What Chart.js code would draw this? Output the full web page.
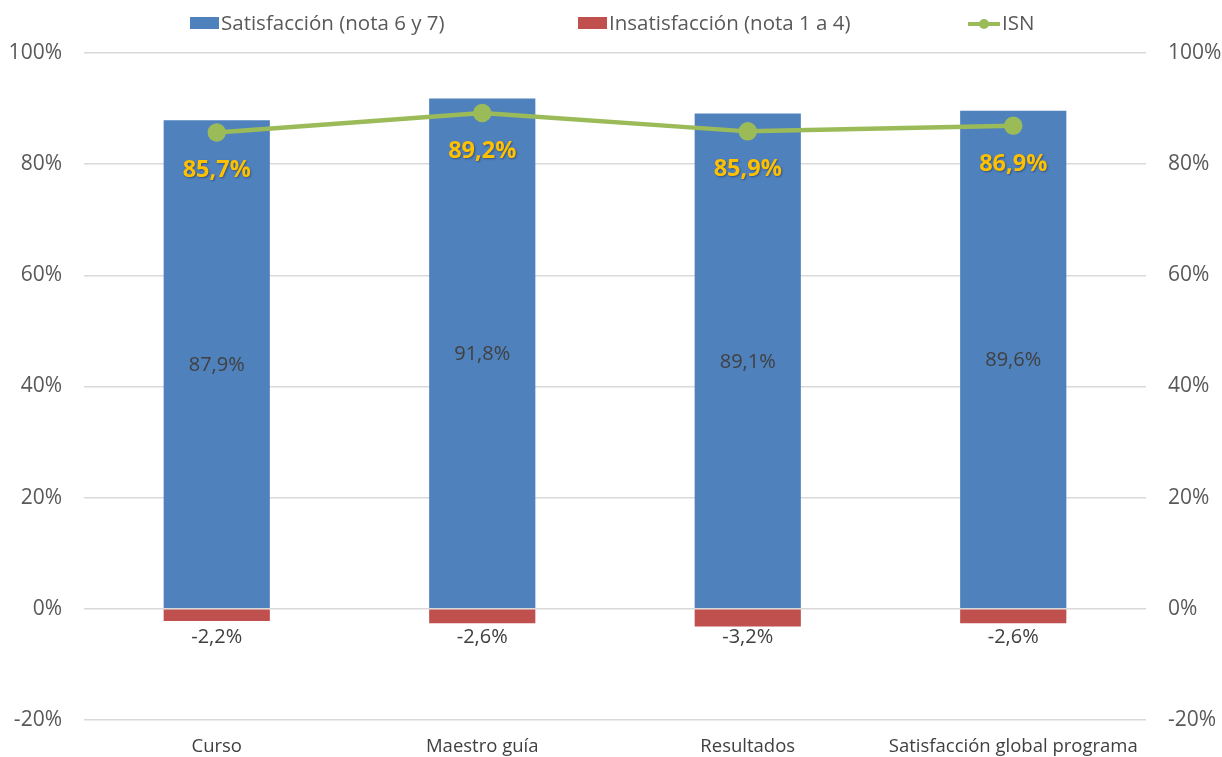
<!DOCTYPE html>
<html>
<head>
<meta charset="utf-8">
<script src="https://cdn.jsdelivr.net/npm/chart.js@4/dist/chart.umd.min.js"></script>
<style>
  html, body { margin: 0; padding: 0; background: #fff; }
  #wrap { width: 1222px; height: 757px; position: relative; }
</style>
</head>
<body>
<div id="wrap"><canvas id="chart" width="1222" height="757"></canvas></div>
<script>
const categories = ['Curso', 'Maestro guía', 'Resultados', 'Satisfacción global programa'];
const satisfaccion = [87.9, 91.8, 89.1, 89.6];
const insatisfaccion = [-2.2, -2.6, -3.2, -2.6];
const isn = [85.7, 89.2, 85.9, 86.9];
const seriesNames = ['Satisfacción (nota 6 y 7)', 'Insatisfacción (nota 1 a 4)', 'ISN'];

const FONT = '"Open Sans", "Noto Sans", sans-serif';
const fmt = v => v.toFixed(1).replace('.', ',') + '%';

// labels + legend drawn by hand, no datalabels plugin available
const labelPlugin = {
    id: 'labels',
    afterDatasetsDraw(chart) {
        const ctx = chart.ctx;
        const zeroY = chart.scales.y.getPixelForValue(0);
        ctx.save();
        ctx.textAlign = 'center';
        ctx.textBaseline = 'middle';

        // satisfaction values, centred in bar
        ctx.font = '20px ' + FONT;
        ctx.fillStyle = '#404040';
        chart.getDatasetMeta(0).data.forEach((bar, i) => {
            ctx.fillText(fmt(satisfaccion[i]), bar.x, (bar.y + bar.base) / 2 + 1);
        });
        // dissatisfaction values, under the bars
        chart.getDatasetMeta(1).data.forEach((bar, i) => {
            ctx.fillText(fmt(insatisfaccion[i]), bar.x, zeroY + 28);
        });
        // ISN values, below the points
        ctx.font = 'bold 23.5px ' + FONT;
        chart.getDatasetMeta(2).data.forEach((pt, i) => {
            ctx.shadowColor = 'rgba(0,0,0,0.35)';
            ctx.shadowOffsetX = 1;
            ctx.shadowOffsetY = 1;
            ctx.shadowBlur = 2;
            ctx.fillStyle = '#FFC000';
            ctx.fillText(fmt(isn[i]), pt.x, pt.y + 38);
        });
        ctx.shadowColor = 'transparent';

        // legend
        ctx.font = '20.5px ' + FONT;
        ctx.textAlign = 'left';
        ctx.fillStyle = '#4F81BD';
        ctx.fillRect(190, 17, 29, 12);
        ctx.fillStyle = '#595959';
        ctx.fillText(seriesNames[0], 221, 24);
        ctx.fillStyle = '#C0504D';
        ctx.fillRect(578, 17, 29, 12);
        ctx.fillStyle = '#595959';
        ctx.fillText(seriesNames[1], 609, 24);
        ctx.strokeStyle = '#9BBB59';
        ctx.lineWidth = 4;
        ctx.beginPath();
        ctx.moveTo(968, 24);
        ctx.lineTo(1000, 24);
        ctx.stroke();
        ctx.fillStyle = '#9BBB59';
        ctx.beginPath();
        ctx.arc(984, 24, 5, 0, Math.PI * 2);
        ctx.fill();
        ctx.fillStyle = '#595959';
        ctx.fillText(seriesNames[2], 1002, 24);
        ctx.restore();
    }
};

const tickStyle = { color: '#595959', font: { size: 21, family: FONT } };

new Chart(document.getElementById('chart'), {
    type: 'bar',
    data: {
        labels: categories,
        datasets: [{
            label: seriesNames[0],
            data: satisfaccion,
            backgroundColor: '#4F81BD',
            stack: 's',
            categoryPercentage: 0.4,
            barPercentage: 1,
            order: 2
        }, {
            label: seriesNames[1],
            data: insatisfaccion,
            backgroundColor: '#C0504D',
            stack: 's',
            categoryPercentage: 0.4,
            barPercentage: 1,
            order: 2
        }, {
            type: 'line',
            label: seriesNames[2],
            data: isn,
            borderColor: '#9BBB59',
            backgroundColor: '#9BBB59',
            borderWidth: 4.5,
            pointRadius: 7,
            pointHoverRadius: 7,
            tension: 0,
            order: 1
        }]
    },
    options: {
        responsive: false,
        animation: false,
        layout: { padding: { top: 53, left: 0, right: 0, bottom: 0 } },
        plugins: { legend: { display: false }, tooltip: { enabled: false } },
        scales: {
            x: {
                stacked: true,
                grid: { display: false, drawTicks: false },
                border: { display: false },
                ticks: { color: '#404040', font: { size: 18.5, family: FONT }, padding: 16 },
                afterFit: s => { s.height = 37; }
            },
            y: {
                stacked: true,
                min: -20, max: 100,
                ticks: Object.assign({ stepSize: 20, padding: 22, callback: v => v + '%' }, tickStyle),
                grid: { color: '#D9D9D9', lineWidth: 1.5, drawTicks: false },
                border: { display: false },
                afterFit: s => { s.width = 84; }
            },
            y2: {
                position: 'right',
                min: -20, max: 100,
                ticks: Object.assign({ stepSize: 20, padding: 22, callback: v => v + '%' }, tickStyle),
                grid: { display: false, drawTicks: false },
                border: { display: false },
                afterFit: s => { s.width = 76; }
            }
        }
    },
    plugins: [labelPlugin]
});
</script>
</body>
</html>
